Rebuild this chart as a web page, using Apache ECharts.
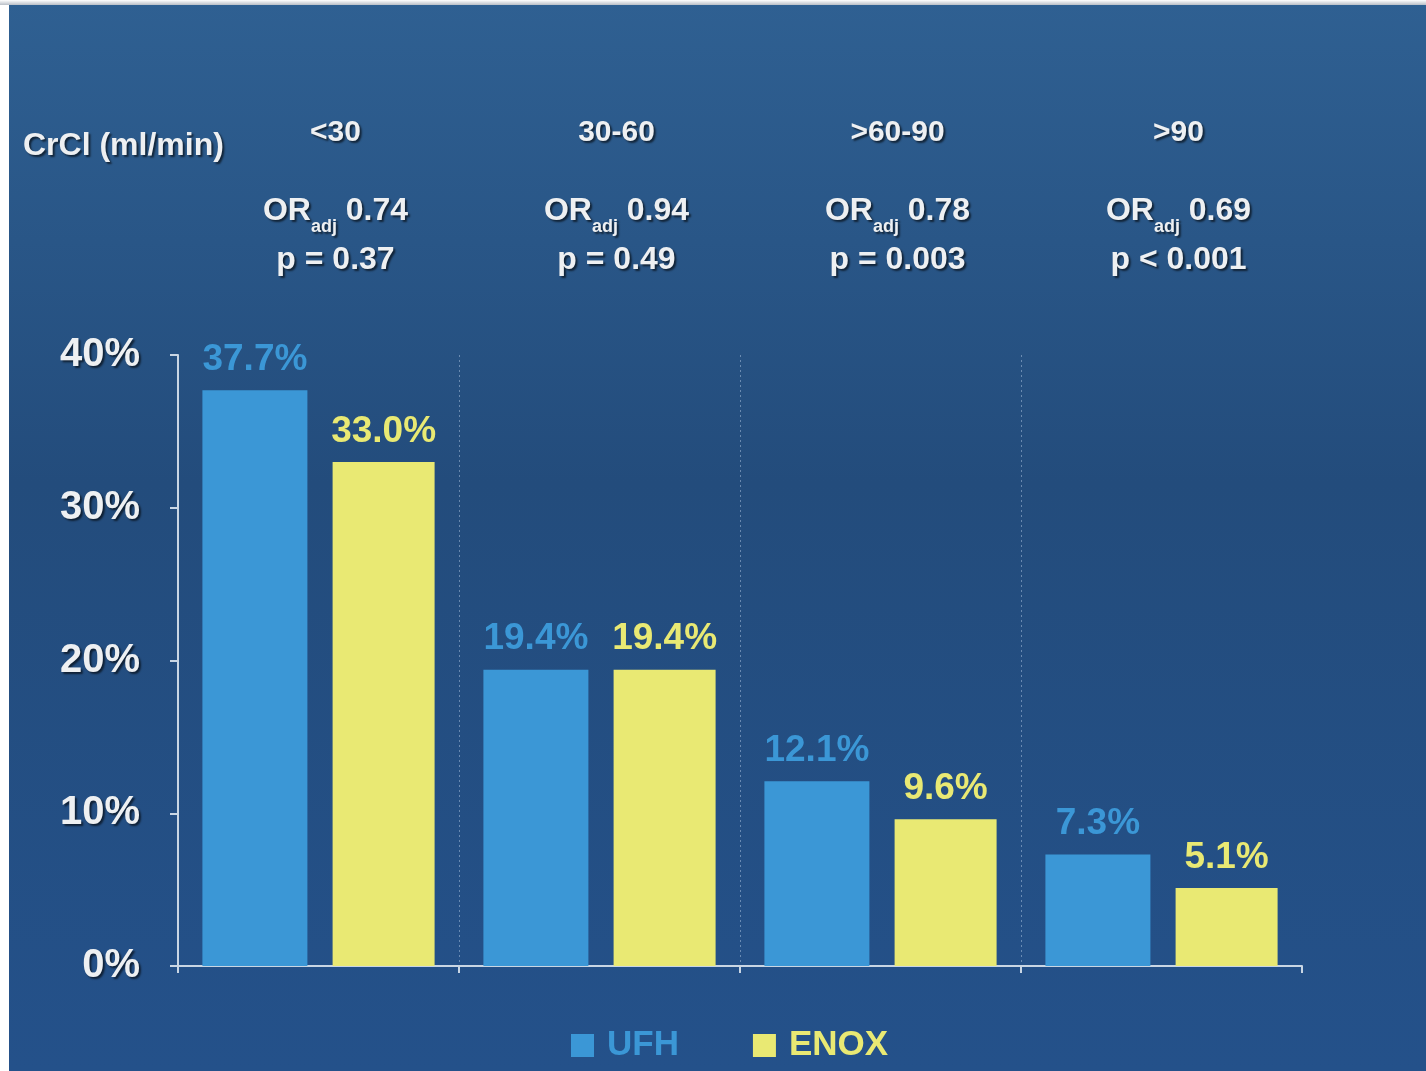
<!DOCTYPE html>
<html>
<head>
<meta charset="utf-8">
<style>
  html, body { margin: 0; padding: 0; background: #ffffff; }
  #chart { width: 1426px; height: 1071px; }
</style>
<script src="https://cdn.jsdelivr.net/npm/echarts@6/dist/echarts.min.js"></script>
</head>
<body>
<div id="chart"></div>
<script>
// Creatinine clearance groups and per-group statistics
const categories = ['<30', '30-60', '>60-90', '>90'];
const orAdj = ['0.74', '0.94', '0.78', '0.69'];
const pValues = ['p = 0.37', 'p = 0.49', 'p = 0.003', 'p < 0.001'];

// Event rates (%) per treatment arm
const ufh = [37.7, 19.4, 12.1, 7.3];
const enox = [33.0, 19.4, 9.6, 5.1];

// Y axis range (%)
const yMin = 0, yMax = 40, yStep = 10;

const FONT = '"Liberation Sans", Arial, Helvetica, sans-serif';
const WHITE = '#eef0f2';
const BLUE = '#3b97d6';
const YELLOW = '#e9e973';
const SEP = 'rgba(190,210,235,0.45)';
const NONE = 'rgba(0,0,0,0)';
const shadow = { textShadowColor: 'rgba(0,0,0,0.6)', textShadowOffsetX: 2, textShadowOffsetY: 2, textShadowBlur: 2 };

const chart = echarts.init(document.getElementById('chart'));

const valueLabel = (color) => ({
  show: true,
  position: 'top',
  distance: 12,
  color: color,
  fontFamily: FONT,
  fontSize: 37,
  fontWeight: 'bold',
  formatter: p => p.value.toFixed(1) + '%'
});

chart.setOption({
  backgroundColor: new echarts.graphic.LinearGradient(0, 0, 0, 1, [
    { offset: 0, color: '#2f6092' },
    { offset: 0.45, color: '#234c7c' },
    { offset: 1, color: '#24518a' }
  ]),
  animation: false,
  title: {
    text: 'CrCl (ml/min)',
    left: 18,
    top: 125,
    textStyle: Object.assign({ color: WHITE, fontFamily: FONT, fontSize: 32, fontWeight: 'bold' }, shadow)
  },
  legend: {
    left: 566,
    top: 1023,
    itemWidth: 23,
    itemHeight: 23,
    itemGap: 74,
    icon: 'rect',
    textStyle: { fontFamily: FONT, fontSize: 35, fontWeight: 'bold', padding: [0, 0, 0, 8] },
    data: [
      { name: 'UFH', textStyle: { color: BLUE } },
      { name: 'ENOX', textStyle: { color: YELLOW } }
    ]
  },
  grid: { left: 178, right: 124, top: 355, bottom: 105, containLabel: false },
  xAxis: [
    {
      type: 'category',
      data: categories,
      axisLine: { lineStyle: { color: '#c9d6e4', width: 2 } },
      axisTick: { show: true, length: 7, lineStyle: { color: '#c9d6e4', width: 2 } },
      axisLabel: { show: false },
      splitLine: {
        show: true,
        // dotted separators between groups; outer edges left blank
        lineStyle: { color: [NONE, SEP, SEP, SEP, NONE], type: [2, 3], width: 1 }
      }
    },
    {
      type: 'category',
      data: categories,
      position: 'top',
      axisLine: { show: false },
      axisTick: { show: false },
      splitLine: { show: false },
      axisLabel: {
        margin: 70,
        padding: [0, 0, 0, 34],
        formatter: function (value, idx) {
          return '{cat|' + value + '}\n{or|OR}{sub|adj}{or| ' + orAdj[idx] + '}\n{p|' + pValues[idx] + '}';
        },
        rich: {
          cat: Object.assign({ color: WHITE, fontFamily: FONT, fontSize: 30, fontWeight: 'bold', lineHeight: 109 }, shadow),
          or: Object.assign({ color: WHITE, fontFamily: FONT, fontSize: 32, fontWeight: 'bold', lineHeight: 49 }, shadow),
          sub: Object.assign({ color: WHITE, fontFamily: FONT, fontSize: 18, fontWeight: 'bold', lineHeight: 22, verticalAlign: 'bottom' }, shadow),
          p: Object.assign({ color: WHITE, fontFamily: FONT, fontSize: 32, fontWeight: 'bold', lineHeight: 49 }, shadow)
        }
      }
    }
  ],
  yAxis: {
    type: 'value',
    min: yMin,
    max: yMax,
    interval: yStep,
    axisLine: { show: true, lineStyle: { color: '#c9d6e4', width: 2 } },
    axisTick: { show: true, length: 8, lineStyle: { color: '#c9d6e4', width: 2 } },
    splitLine: { show: false },
    axisLabel: Object.assign({
      margin: 38,
      color: WHITE,
      fontFamily: FONT,
      fontSize: 40,
      fontWeight: 'bold',
      formatter: '{value}%'
    }, shadow)
  },
  series: [
    {
      name: 'UFH',
      type: 'bar',
      data: ufh,
      barWidth: 105,
      barGap: '24%',
      itemStyle: { color: BLUE },
      label: valueLabel(BLUE)
    },
    {
      name: 'ENOX',
      type: 'bar',
      data: enox,
      barWidth: 102,
      itemStyle: { color: YELLOW },
      label: valueLabel(YELLOW)
    }
  ],
  graphic: [
    { type: 'rect', left: 0, top: 0, shape: { width: 9, height: 1071 }, style: { fill: '#ffffff' }, silent: true },
    {
      type: 'rect', left: 0, top: 0, shape: { width: 1426, height: 5 }, silent: true,
      style: { fill: new echarts.graphic.LinearGradient(0, 0, 0, 1, [
        { offset: 0, color: '#ffffff' }, { offset: 1, color: '#b9bfc7' }
      ]) }
    }
  ]
});
</script>
</body>
</html>
